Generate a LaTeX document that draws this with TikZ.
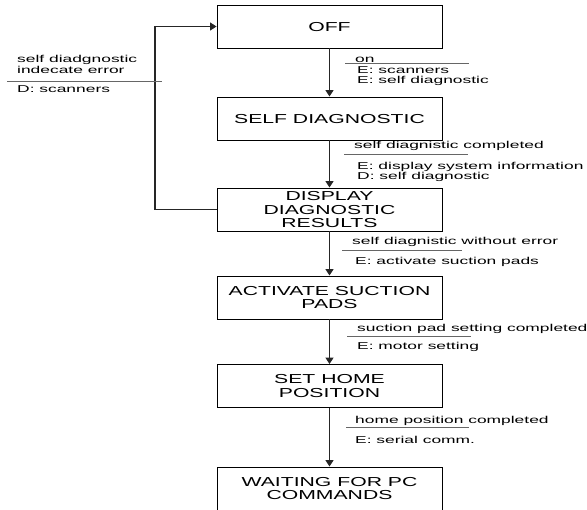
\documentclass[tikz,border=0pt]{standalone}
\usepackage{fontspec}
\usepackage{graphicx}
\usetikzlibrary{arrows.meta}
\setmainfont{Liberation Sans}
% wide lettering: state names and transition notes are set horizontally stretched;
% the state text drops the last row's strut depth so the lettering sits centred
\newcommand\statetext[1]{\raisebox{0pt}[\height][\dimexpr\depth-4.05pt\relax]{%
  \scalebox{1.63}[1]{\begin{tabular}{@{}c@{}}#1\end{tabular}}}}
\newcommand\notetext[1]{\scalebox{1.74}[1]{#1}}
\begin{document}
\begin{tikzpicture}[x=1pt,y=-1pt,
  state/.style={draw=black, line width=0.9pt, rectangle, minimum width=225pt,
    minimum height=43pt, inner sep=0pt,
    font=\fontsize{13}{13.5}\selectfont},
  note/.style={anchor=base west, inner sep=0pt,
    font=\fontsize{10}{10}\selectfont},
  sepline/.style={draw=black!60, line width=0.8pt},
  flow/.style={draw=black!85, line width=1.4pt,
    -{Triangle[width=8pt,length=6.5pt]}},
  back/.style={draw=black!85, line width=1.1pt,
    -{Triangle[width=8pt,length=6.5pt]}}]
\useasboundingbox (0,0) rectangle (587,510);

% states
\node[state] (off)  at (329.5,26.5)  {\statetext{OFF}};
\node[state] (sd)   at (329.5,118.5) {\statetext{SELF DIAGNOSTIC}};
\node[state] (disp) at (329.5,209.5) {\statetext{DISPLAY\\DIAGNOSTIC\\RESULTS}};
\node[state] (act)  at (329.5,297.5) {\statetext{ACTIVATE SUCTION\\PADS}};
\node[state] (home) at (329.5,386)   {\statetext{SET HOME\\POSITION}};
\node[state] (wait) at (329.5,488.5) {\statetext{WAITING FOR PC\\COMMANDS}};

% transitions
\draw[flow] (off) -- (sd);
\draw[flow] (sd) -- (disp);
\draw[flow] (disp) -- (act);
\draw[flow] (act) -- (home);
\draw[flow] (home) -- (wait);
\coordinate (bk) at (155,209.5);
\draw[back] (disp.west) -- (bk) |- (off.west);

% transition labels
\node[note] (t1a) at (355,63) {\notetext{on}};
\draw[sepline] (345,63.5) -- (469,63.5);
\node[note] (t1b) at (357,73.5) {\notetext{E: scanners}};
\node[note] (t1c) at (357,84) {\notetext{E: self diagnostic}};

\node[note] (t2a) at (354,149) {\notetext{self diagnistic completed}};
\draw[sepline] (344,154.5) -- (468,154.5);
\node[note] (t2b) at (357,170) {\notetext{E: display system information}};
\node[note] (t2c) at (357,180) {\notetext{D: self diagnostic}};

\node[note] (t3a) at (352,245) {\notetext{self diagnistic without error}};
\draw[sepline] (342,250) -- (462,250);
\node[note] (t3b) at (355,265) {\notetext{E: activate suction pads}};

\node[note] (t4a) at (357,332) {\notetext{suction pad setting completed}};
\draw[sepline] (347,336.5) -- (471,336.5);
\node[note] (t4b) at (357,350) {\notetext{E: motor setting}};

\node[note] (t5a) at (355,424) {\notetext{home position completed}};
\draw[sepline] (346,427.5) -- (469,427.5);
\node[note] (t5b) at (355,444) {\notetext{E: serial comm.}};

\node[note] (e1a) at (17,63) {\notetext{self diadgnostic}};
\node[note] (e1b) at (17,74) {\notetext{indecate error}};
\draw[sepline] (7,81.5) -- (162,81.5);
\node[note] (e1c) at (17,93) {\notetext{D: scanners}};
\end{tikzpicture}
\end{document}
